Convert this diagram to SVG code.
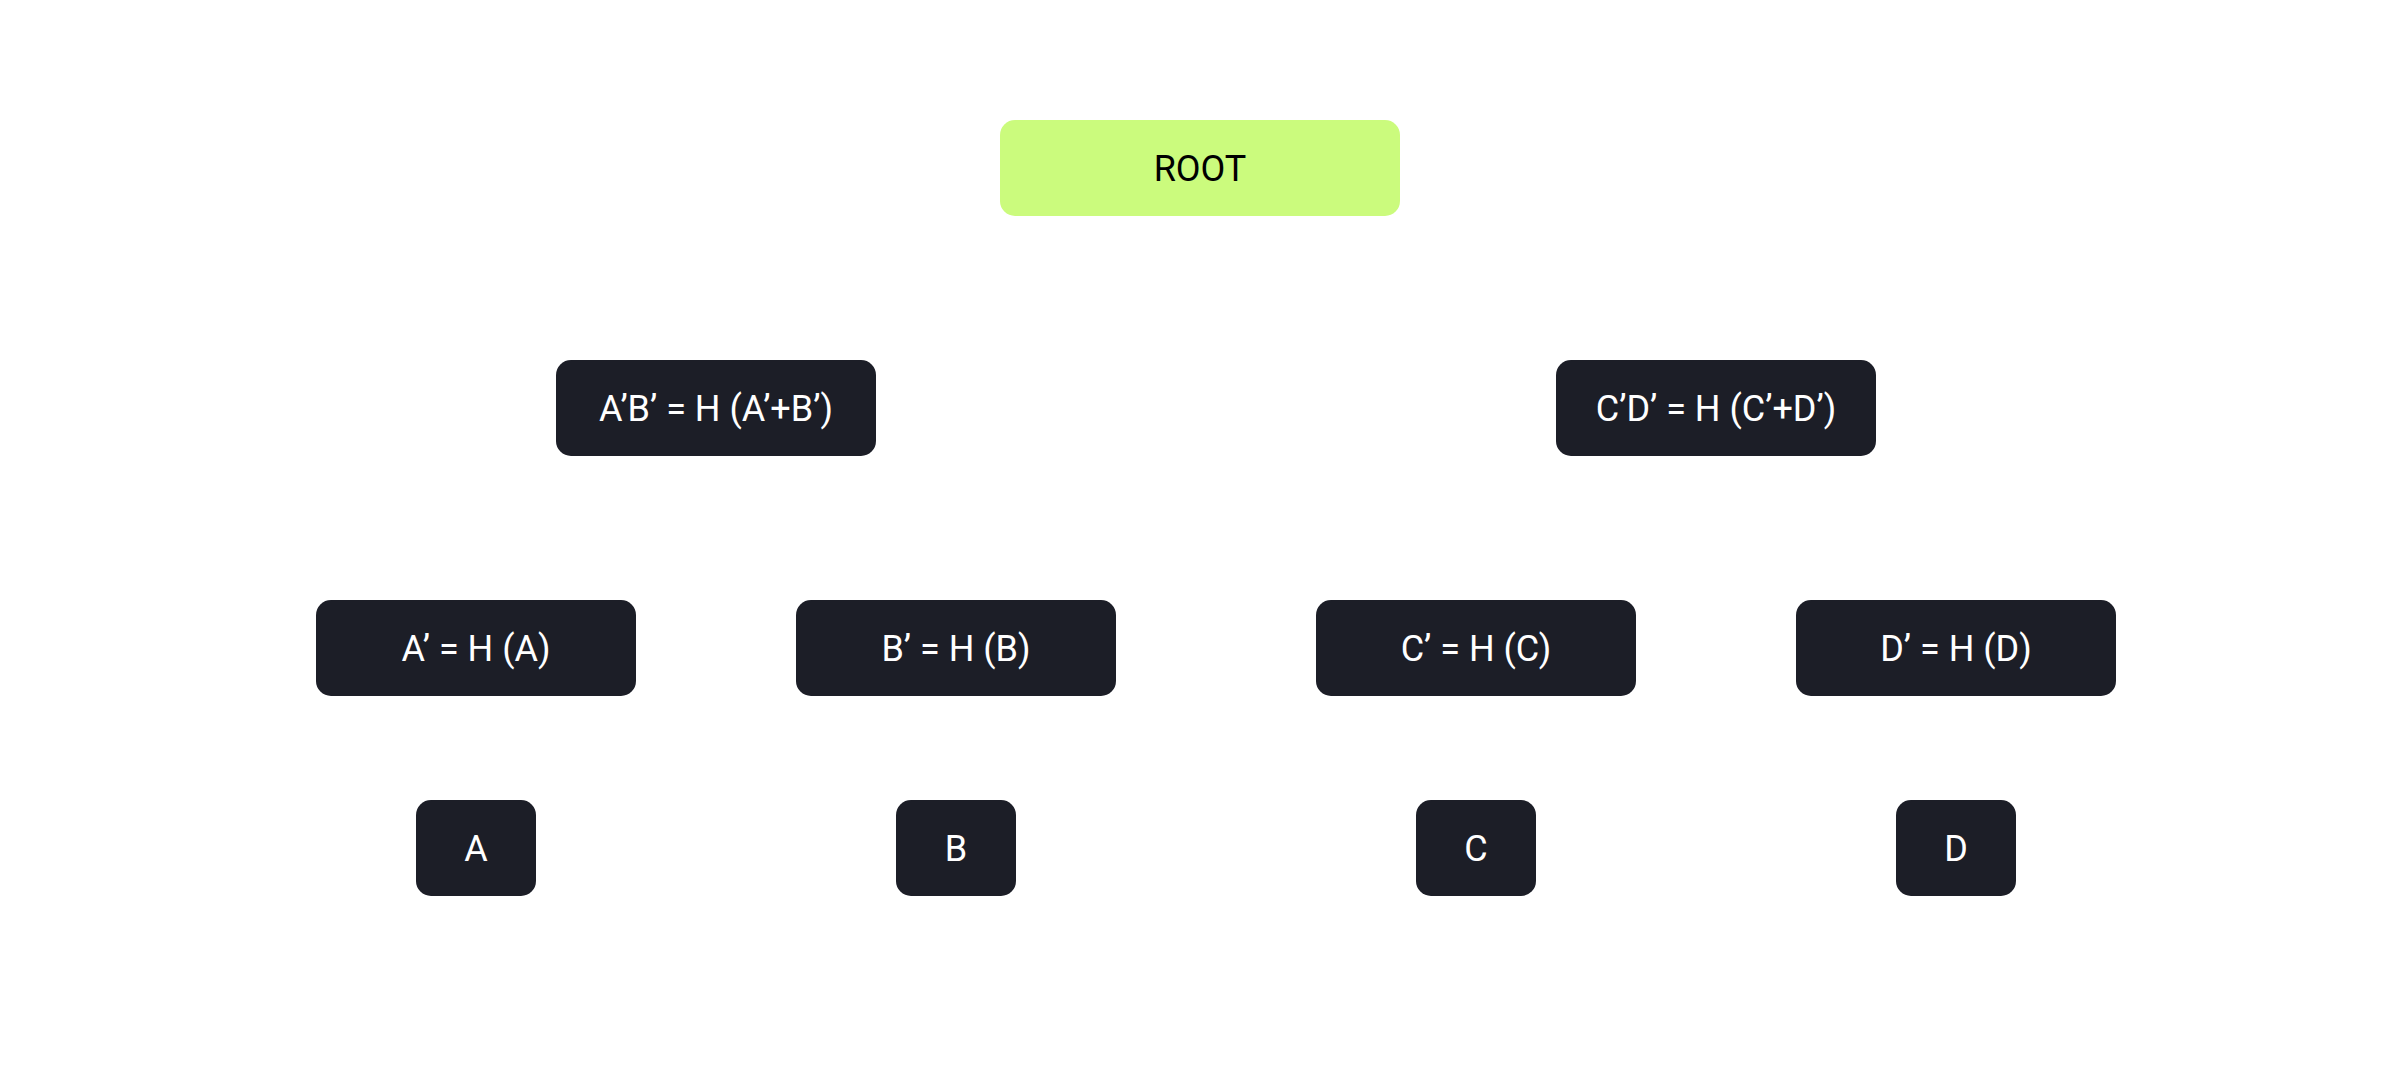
<svg xmlns="http://www.w3.org/2000/svg" width="2400" height="1080" viewBox="0 0 2400 1080">
<style>
.dark{fill:#1c1e27}
.root{fill:#cbfb7d}
.t{font-family:Roboto,"Liberation Sans",sans-serif;font-size:36px;fill:#ffffff;text-anchor:middle}
.rt{font-family:Roboto,"Liberation Sans",sans-serif;font-size:36px;fill:#000000;text-anchor:middle}
</style>
<rect width="2400" height="1080" fill="#ffffff"/>
<g id="root">
<rect class="root" x="1000" y="120" width="400" height="96" rx="15"/>
<text class="rt" x="1200" y="180.5">ROOT</text>
</g>
<g id="node-ab">
<rect class="dark" x="556" y="360" width="320" height="96" rx="15"/>
<text class="t" x="716" y="420.5">A’B’ = H (A’+B’)</text>
</g>
<g id="node-cd">
<rect class="dark" x="1556" y="360" width="320" height="96" rx="15"/>
<text class="t" x="1716" y="420.5">C’D’ = H (C’+D’)</text>
</g>
<g id="node-a1">
<rect class="dark" x="316" y="600" width="320" height="96" rx="15"/>
<text class="t" x="476" y="660.5">A’ = H (A)</text>
</g>
<g id="node-b1">
<rect class="dark" x="796" y="600" width="320" height="96" rx="15"/>
<text class="t" x="956" y="660.5">B’ = H (B)</text>
</g>
<g id="node-c1">
<rect class="dark" x="1316" y="600" width="320" height="96" rx="15"/>
<text class="t" x="1476" y="660.5">C’ = H (C)</text>
</g>
<g id="node-d1">
<rect class="dark" x="1796" y="600" width="320" height="96" rx="15"/>
<text class="t" x="1956" y="660.5">D’ = H (D)</text>
</g>
<g id="node-a">
<rect class="dark" x="416" y="800" width="120" height="96" rx="15"/>
<text class="t" x="476" y="860.5">A</text>
</g>
<g id="node-b">
<rect class="dark" x="896" y="800" width="120" height="96" rx="15"/>
<text class="t" x="956" y="860.5">B</text>
</g>
<g id="node-c">
<rect class="dark" x="1416" y="800" width="120" height="96" rx="15"/>
<text class="t" x="1476" y="860.5">C</text>
</g>
<g id="node-d">
<rect class="dark" x="1896" y="800" width="120" height="96" rx="15"/>
<text class="t" x="1956" y="860.5">D</text>
</g>
</svg>
